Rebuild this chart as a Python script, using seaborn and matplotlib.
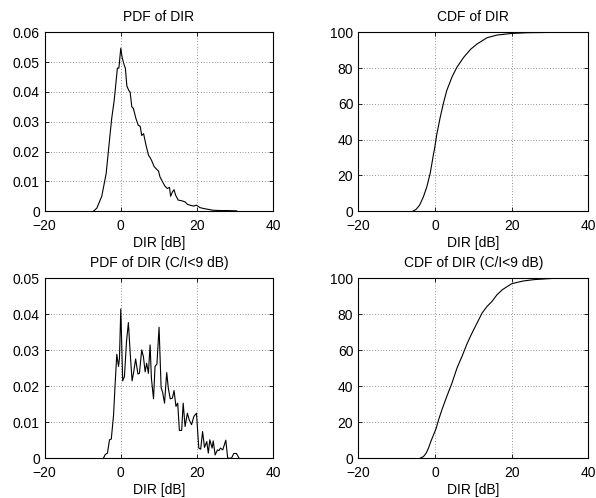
import matplotlib
matplotlib.use('Agg')
import matplotlib.pyplot as plt
import matplotlib.ticker as mticker
import numpy as np
import pandas as pd
import seaborn as sns

# PDF of DIR (all samples)
pdf_x = [-7.2, -6.3, -5.0, -3.85, -2.8, -2.4, -1.75, -1.2, -0.9, -0.5, 0.0, 0.35, 0.9, 1.2,
         1.6, 2.1, 2.45, 2.9, 3.3, 4.0, 4.6, 5.1, 5.5, 6.0, 6.65, 7.3, 7.7, 8.1, 8.75, 9.45,
         9.9, 10.3, 11.0, 11.6, 12.25, 12.8, 13.1, 13.6, 14.0, 14.4, 15.1, 16.0, 16.9, 17.5,
         18.2, 19.1, 19.9, 20.8, 21.7, 23.0, 24.3, 26.1, 27.9, 30.5]
pdf_y = [0.0, 0.001, 0.005, 0.0126, 0.026, 0.031, 0.037, 0.044, 0.048, 0.048, 0.0547, 0.0516,
         0.049, 0.048, 0.042, 0.0405, 0.040, 0.035, 0.0345, 0.031, 0.0288, 0.0285, 0.0254,
         0.026, 0.022, 0.0187, 0.018, 0.017, 0.015, 0.014, 0.0135, 0.0115, 0.0098, 0.0084,
         0.0076, 0.008, 0.005, 0.0065, 0.0072, 0.0054, 0.0037, 0.0035, 0.0031, 0.0023, 0.002,
         0.0017, 0.002, 0.0012, 0.0009, 0.0006, 0.0003, 0.0002, 0.0002, 0.0001]

# CDF of DIR (all samples), percent
cdf_x = [-5.75, -4.9, -4.0, -3.0, -2.1, -1.2, -0.35, 0.0, 0.5, 1.4, 2.3, 3.1, 4.45, 5.75,
         7.5, 9.3, 11.0, 13.6, 16.2, 20.0, 24.0, 31.0]
cdf_y = [0.0, 1.0, 3.3, 8.0, 13.6, 21.4, 32.0, 36.0, 43.0, 52.6, 61.0, 67.5, 75.0, 80.5,
         86.0, 90.5, 93.5, 97.0, 98.5, 99.4, 99.8, 100.0]

# PDF of DIR for C/I < 9 dB
pdfc_x = [-4.55, -4.1, -3.5, -2.97, -2.5, -1.9, -1.5, -1.05, -0.6, -0.35, 0.0, 0.5, 0.96,
          1.5, 2.0, 2.45, 2.97, 3.4, 3.9, 4.5, 4.9, 5.5, 5.95, 6.4, 6.8, 7.26, 7.7, 8.05,
          8.6, 9.0, 9.5, 10.06, 10.6, 11.0, 11.5, 12.07, 12.5, 13.0, 13.56, 14.0, 14.5,
          14.96, 15.4, 16.0, 16.4, 16.9, 17.5, 18.0, 18.6, 19.2, 19.9, 20.5, 21.0, 21.5,
          22.0, 22.6, 23.0, 23.4, 24.0, 24.3, 24.8, 25.4, 25.8, 26.2, 26.8, 27.6, 28.1,
          29.1, 29.7, 30.4, 31.1]
pdfc_y = [0.0, 0.001, 0.0014, 0.0051, 0.0053, 0.012, 0.0204, 0.0289, 0.0255, 0.0278, 0.0415,
          0.0215, 0.0227, 0.0324, 0.0377, 0.0296, 0.0215, 0.024, 0.0276, 0.0234, 0.0236,
          0.0301, 0.0282, 0.024, 0.0264, 0.0236, 0.0315, 0.0222, 0.0165, 0.0255, 0.0262,
          0.0364, 0.0196, 0.0183, 0.0153, 0.0238, 0.0194, 0.0165, 0.0167, 0.0188, 0.0144,
          0.0153, 0.0077, 0.0077, 0.0153, 0.0088, 0.0125, 0.0106, 0.0093, 0.0116, 0.0125,
          0.0028, 0.0025, 0.0074, 0.003, 0.0046, 0.0014, 0.0051, 0.0028, 0.0048, 0.0009,
          0.0023, 0.0021, 0.0028, 0.0023, 0.005, 0.0, 0.0, 0.0013, 0.0013, 0.0]

# CDF of DIR for C/I < 9 dB, percent
cdfc_x = [-3.85, -2.97, -2.27, -1.66, -1.05, -0.35, 0.35, 0.96, 1.83, 3.1, 4.45, 5.76, 7.07,
          8.38, 9.26, 10.1, 11.2, 12.3, 13.6, 14.9, 16.2, 17.6, 18.9, 20.0, 21.5, 23.2,
          25.8, 29.3, 31.0]
cdfc_y = [0.0, 0.9, 2.8, 5.6, 9.3, 13.0, 16.7, 21.3, 26.9, 34.3, 41.7, 50.1, 56.6, 63.6,
          67.7, 71.4, 76.0, 80.7, 84.4, 87.2, 90.9, 93.7, 95.5, 97.0, 97.8, 98.6, 99.3,
          99.8, 100.0]

x_ticks = [-20, 0, 20, 40]

sns.set_theme(style='ticks')
plt.rcParams['font.family'] = ['Liberation Sans', 'DejaVu Sans']
plt.rcParams['axes.unicode_minus'] = True
plt.rcParams['text.color'] = 'black'
plt.rcParams['axes.labelcolor'] = 'black'

fig = plt.figure(figsize=(5.96, 4.98), dpi=100)
ax1 = fig.add_axes([0.075, 0.576, 0.383, 0.359])
ax2 = fig.add_axes([0.601, 0.576, 0.386, 0.359])
ax3 = fig.add_axes([0.075, 0.080, 0.383, 0.361])
ax4 = fig.add_axes([0.601, 0.080, 0.386, 0.361])

panels = [
    (ax1, pdf_x, pdf_y, 'PDF of DIR', 0.06, np.arange(0, 0.061, 0.01)),
    (ax2, cdf_x, cdf_y, 'CDF of DIR', 100, np.arange(0, 101, 20)),
    (ax3, pdfc_x, pdfc_y, 'PDF of DIR (C/I<9 dB)', 0.05, np.arange(0, 0.051, 0.01)),
    (ax4, cdfc_x, cdfc_y, 'CDF of DIR (C/I<9 dB)', 100, np.arange(0, 101, 20)),
]

for ax, xs, ys, title, ymax, yt in panels:
    df = pd.DataFrame({'x': xs, 'y': ys})
    sns.lineplot(data=df, x='x', y='y', ax=ax, color='black', linewidth=0.8, estimator=None)
    ax.set_xlim(-20, 40)
    ax.set_ylim(0, ymax)
    ax.set_xticks(x_ticks)
    ax.set_yticks(yt)
    ax.yaxis.set_major_formatter(mticker.FuncFormatter(lambda v, p: '%g' % round(v, 4)))
    ax.grid(True, color='black', linestyle=(0, (1, 3)), linewidth=0.5, alpha=0.8)
    ax.tick_params(direction='in', top=True, right=True, length=3, width=0.6,
                   labelsize=10, colors='black')
    ax.tick_params(axis='x', pad=5.5)
    ax.tick_params(axis='y', pad=3.5)
    for s in ax.spines.values():
        s.set_linewidth(0.8)
        s.set_color('black')
    ax.set_title(title, fontsize=10, pad=8, color='black')
    ax.set_xlabel('DIR [dB]', fontsize=10, labelpad=2, color='black')
    ax.set_ylabel('')

fig.savefig('out.png', dpi=100)
